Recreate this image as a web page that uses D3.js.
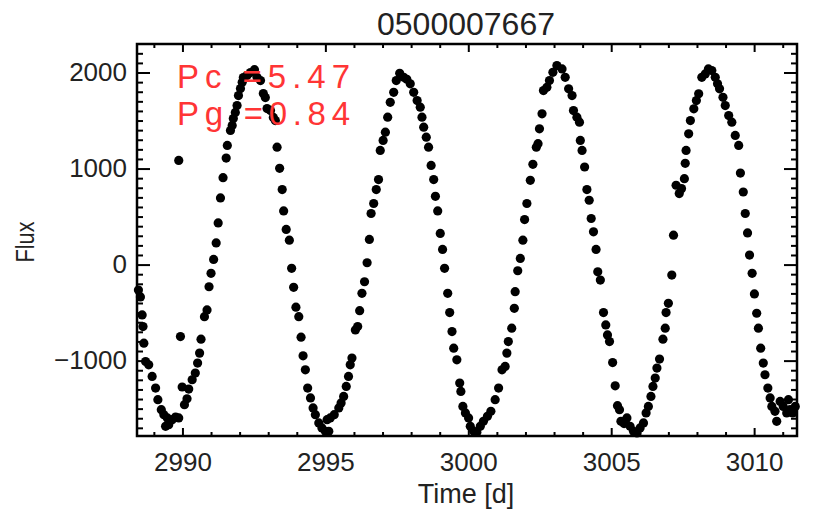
<!DOCTYPE html>
<html>
<head>
<meta charset="utf-8">
<script src="https://cdn.jsdelivr.net/npm/d3@7"></script>
<style>
  html, body { margin: 0; padding: 0; background: #fff; }
  svg { display: block; }
  text { font-family: "Liberation Sans", Arial, Helvetica, sans-serif; }
</style>
</head>
<body>
<svg id="chart" width="814" height="509"></svg>
<script>
// Light curve samples: observation time (days) and flux
const time = [
  2988.46, 2988.53, 2988.59, 2988.62, 2988.65, 2988.71, 2988.82, 2988.94, 2989.06, 2989.14,
  2989.26, 2989.35, 2989.41, 2989.47, 2989.52, 2989.64, 2989.76, 2989.87, 2989.87, 2989.93,
  2989.99, 2990.07, 2990.16, 2990.22, 2990.34, 2990.45, 2990.53, 2990.60, 2990.65, 2990.77,
  2990.86, 2990.93, 2991.00, 2991.09, 2991.18, 2991.25, 2991.33, 2991.42, 2991.53, 2991.57,
  2991.68, 2991.74, 2991.78, 2991.85, 2991.91, 2991.96, 2992.03, 2992.09, 2992.13, 2992.26,
  2992.38, 2992.52, 2992.61, 2992.73, 2992.83, 2992.90, 2992.96, 2993.08, 2993.18, 2993.25,
  2993.31, 2993.40, 2993.49, 2993.54, 2993.63, 2993.74, 2993.82, 2993.89, 2993.97, 2994.07,
  2994.15, 2994.22, 2994.30, 2994.38, 2994.48, 2994.57, 2994.65, 2994.77, 2994.88, 2995.00,
  2995.06, 2995.12, 2995.17, 2995.31, 2995.47, 2995.55, 2995.64, 2995.73, 2995.81, 2995.87,
  2995.93, 2996.05, 2996.13, 2996.20, 2996.28, 2996.37, 2996.46, 2996.54, 2996.60, 2996.69,
  2996.78, 2996.86, 2996.92, 2997.02, 2997.10, 2997.18, 2997.27, 2997.39, 2997.48, 2997.60,
  2997.74, 2997.85, 2997.97, 2998.09, 2998.21, 2998.32, 2998.38, 2998.44, 2998.53, 2998.61,
  2998.70, 2998.79, 2998.85, 2998.93, 2999.02, 2999.10, 2999.17, 2999.28, 2999.35, 2999.43,
  2999.49, 2999.60, 2999.70, 2999.74, 2999.81, 2999.90, 3000.01, 3000.07, 3000.19, 3000.30,
  3000.42, 3000.53, 3000.67, 3000.79, 3000.94, 3001.06, 3001.18, 3001.29, 3001.35, 3001.40,
  3001.52, 3001.61, 3001.64, 3001.73, 3001.82, 3001.91, 3001.97, 3002.05, 3002.17, 3002.26,
  3002.38, 3002.44, 3002.49, 3002.58, 3002.63, 3002.75, 3002.84, 3002.96, 3003.10, 3003.28,
  3003.39, 3003.51, 3003.63, 3003.68, 3003.80, 3003.89, 3003.92, 3003.98, 3004.07, 3004.15,
  3004.23, 3004.30, 3004.38, 3004.47, 3004.53, 3004.62, 3004.73, 3004.81, 3004.87, 3004.94,
  3005.05, 3005.14, 3005.22, 3005.29, 3005.34, 3005.45, 3005.55, 3005.66, 3005.78, 3005.90,
  3006.01, 3006.13, 3006.22, 3006.30, 3006.39, 3006.46, 3006.54, 3006.60, 3006.69, 3006.81,
  3006.89, 3006.92, 3007.00, 3007.12, 3007.18, 3007.27, 3007.38, 3007.46, 3007.56, 3007.59,
  3007.62, 3007.71, 3007.77, 3007.89, 3007.98, 3008.06, 3008.17, 3008.29, 3008.40, 3008.52,
  3008.64, 3008.72, 3008.79, 3008.91, 3008.99, 3009.11, 3009.22, 3009.34, 3009.46, 3009.52,
  3009.62, 3009.69, 3009.77, 3009.84, 3009.93, 3010.01, 3010.09, 3010.15, 3010.23, 3010.32,
  3010.38, 3010.48, 3010.56, 3010.62, 3010.73, 3010.79, 3010.91, 3011.02, 3011.14, 3011.20,
  3011.26, 3011.35, 3011.44
];
const flux = [
  -265, -337, -524, -646, -818, -1009, -1044, -1165, -1286, -1407,
  -1511, -1563, -1684, -1597, -1667, -1615, -1587, -1597, 1085, -750,
  -1275, -1459, -1397, -1296, -1199, -1130, -1026, -922, -777, -542,
  -472, -231, -91, 54, 226, 434, 694, 905, 1109, 1241,
  1397, 1449, 1521, 1584, 1656, 1760, 1833, 1898, 1947, 1968,
  1999, 2030, 1950, 1916, 1781, 1739, 1625, 1604, 1532, 1500,
  1223, 1002, 781, 559, 366, 254, -39, -237, -444, -542,
  -756, -950, -1096, -1286, -1389, -1493, -1563, -1649, -1701, -1736,
  -1615, -1736, -1597, -1563, -1493, -1441, -1373, -1269, -1165, -1044,
  -974, -680, -646, -480, -299, -179, 19, 262, 532, 636,
  781, 885, 1189, 1293, 1379, 1535, 1690, 1794, 1916, 1992,
  1950, 1930, 1882, 1794, 1708, 1639, 1535, 1431, 1327, 1223,
  1033, 885, 711, 559, 324, 158, -39, -299, -500, -698,
  -870, -992, -1234, -1321, -1477, -1545, -1597, -1684, -1736, -1747,
  -1684, -1632, -1580, -1528, -1407, -1286, -1096, -1061, -922, -802,
  -662, -455, -282, -64, 64, 254, 469, 636, 877, 1044,
  1223, 1259, 1414, 1570, 1812, 1846, 1916, 2002, 2072, 2037,
  1950, 1830, 1760, 1604, 1535, 1483, 1293, 1189, 1016, 781,
  670, 480, 341, 158, -75, -161, -500, -628, -732, -802,
  -1020, -1262, -1469, -1511, -1632, -1656, -1597, -1684, -1736, -1753,
  -1701, -1649, -1545, -1477, -1373, -1269, -1182, -1078, -984, -777,
  -662, -500, -403, -109, 306, 826, 739, 791, 895, 1054,
  1189, 1362, 1500, 1622, 1708, 1778, 1950, 1985, 2037, 2020,
  1950, 1882, 1830, 1742, 1656, 1552, 1483, 1345, 1241, 953,
  756, 532, 330, 99, -91, -306, -507, -662, -870, -1026,
  -1147, -1286, -1389, -1477, -1528, -1632, -1425, -1477, -1545, -1407,
  -1511, -1545, -1477
];

// Axis ticks and labels
const xMajorTicks = [2990, 2995, 3000, 3005, 3010];
const yMajorTicks = [-1000, 0, 1000, 2000];
const xDomain = [2988.41, 3011.5];
const yDomain = [-1785, 2297];

const titleText = "0500007667";
const xLabel = "Time [d]";
const yLabel = "Flux";
const periodLines = ["Pc =5.47", "Pg =0.84"];

const frame = { left: 137, right: 797, top: 44, bottom: 436 };

const svg = d3.select("#chart");
svg.append("rect").attr("width", 814).attr("height", 509).attr("fill", "#fff");

const x = d3.scaleLinear().domain(xDomain).range([frame.left, frame.right]);
const y = d3.scaleLinear().domain(yDomain).range([frame.bottom, frame.top]);

const xMinorTicks = d3.range(2989, 3012, 1).filter(v => !xMajorTicks.includes(v));
const yMinorTicks = d3.range(-1700, 2300, 100).filter(v => !yMajorTicks.includes(v));

const fmt = v => (v < 0 ? "\u2212" + Math.abs(v) : String(v));

function styleAxis(g) {
  g.select(".domain").remove();
  g.selectAll(".tick line").attr("stroke", "#000").attr("stroke-width", 2);
  g.selectAll(".tick text")
    .attr("fill", "#222")
    .style("font-size", "26px")
    .style("font-family", "'Liberation Sans', Arial, sans-serif");
}

// bottom axis with labels
svg.append("g")
  .attr("transform", `translate(0,${frame.bottom})`)
  .call(d3.axisBottom(x).tickValues(xMajorTicks).tickSize(-8).tickPadding(17).tickFormat(fmt))
  .call(styleAxis);
svg.append("g")
  .attr("transform", `translate(0,${frame.bottom})`)
  .call(d3.axisBottom(x).tickValues(xMinorTicks).tickSize(-4).tickFormat(""))
  .call(styleAxis);

// top axis, ticks only
svg.append("g")
  .attr("transform", `translate(0,${frame.top})`)
  .call(d3.axisTop(x).tickValues(xMajorTicks).tickSize(-8).tickFormat(""))
  .call(styleAxis);
svg.append("g")
  .attr("transform", `translate(0,${frame.top})`)
  .call(d3.axisTop(x).tickValues(xMinorTicks).tickSize(-4).tickFormat(""))
  .call(styleAxis);

// left axis with labels
svg.append("g")
  .attr("transform", `translate(${frame.left},0)`)
  .call(d3.axisLeft(y).tickValues(yMajorTicks).tickSize(-13).tickPadding(10).tickFormat(fmt))
  .call(styleAxis);
svg.append("g")
  .attr("transform", `translate(${frame.left},0)`)
  .call(d3.axisLeft(y).tickValues(yMinorTicks).tickSize(-6).tickFormat(""))
  .call(styleAxis);

// right axis, ticks only
svg.append("g")
  .attr("transform", `translate(${frame.right},0)`)
  .call(d3.axisRight(y).tickValues(yMajorTicks).tickSize(-13).tickFormat(""))
  .call(styleAxis);
svg.append("g")
  .attr("transform", `translate(${frame.right},0)`)
  .call(d3.axisRight(y).tickValues(yMinorTicks).tickSize(-6).tickFormat(""))
  .call(styleAxis);

// plot frame
svg.append("rect")
  .attr("x", frame.left).attr("y", frame.top)
  .attr("width", frame.right - frame.left).attr("height", frame.bottom - frame.top)
  .attr("fill", "none").attr("stroke", "#000").attr("stroke-width", 2.5);

// data points
const points = time.map((t, i) => ({ t, f: flux[i] }));
svg.append("g")
  .selectAll("circle")
  .data(points)
  .join("circle")
  .attr("cx", d => x(d.t))
  .attr("cy", d => y(d.f))
  .attr("r", 4.6)
  .attr("fill", "#000");

// title and axis labels
svg.append("text")
  .attr("x", 466).attr("y", 35)
  .attr("text-anchor", "middle")
  .attr("fill", "#222")
  .style("font-size", "32px")
  .text(titleText);

svg.append("text")
  .attr("x", 466).attr("y", 503)
  .attr("text-anchor", "middle")
  .attr("fill", "#222")
  .style("font-size", "27px")
  .text(xLabel);

svg.append("text")
  .attr("transform", "translate(34,242) rotate(-90)")
  .attr("text-anchor", "middle")
  .attr("fill", "#222")
  .attr("textLength", 41)
  .attr("lengthAdjust", "spacingAndGlyphs")
  .style("font-size", "26px")
  .text(yLabel);

// period annotations, one line per period
svg.append("g")
  .selectAll("text")
  .data(periodLines)
  .join("text")
  .attr("x", 177)
  .attr("y", (d, i) => [88, 125][i])
  .attr("fill", "#ff3535")
  .attr("textLength", 173)
  .attr("lengthAdjust", "spacing")
  .style("font-size", "33px")
  .text(d => d);
</script>
</body>
</html>
